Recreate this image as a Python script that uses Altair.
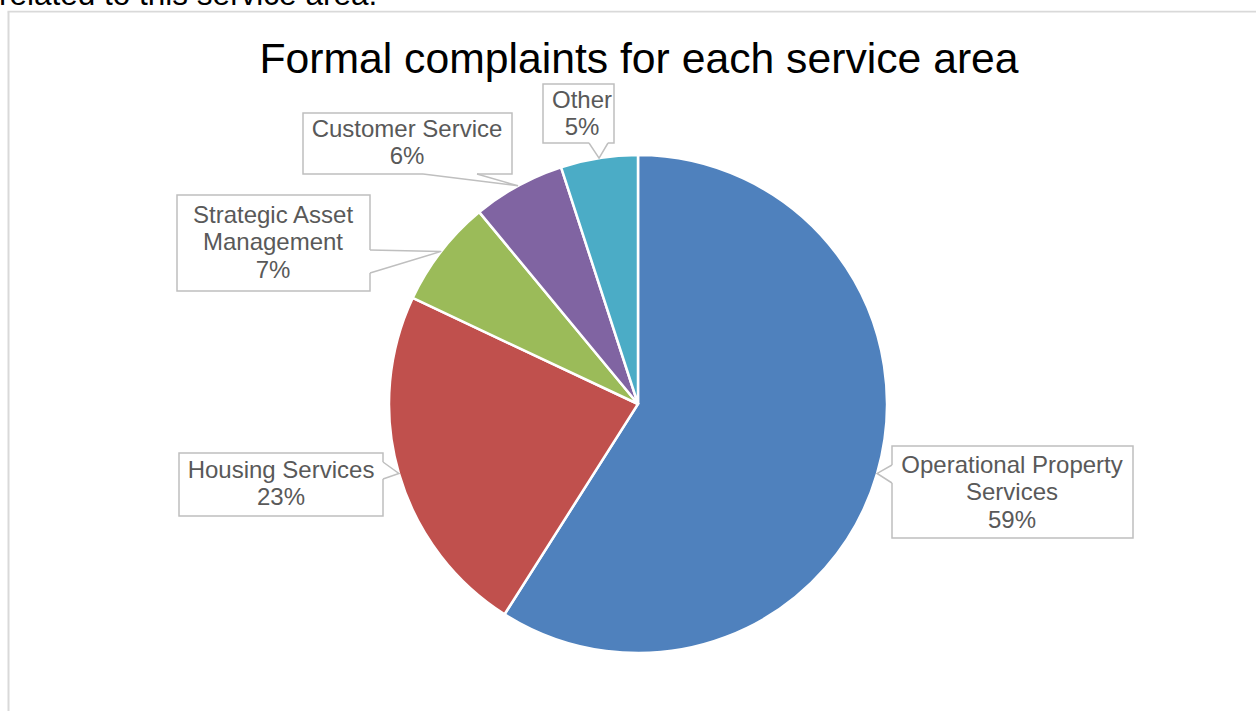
import altair as alt
import pandas as pd
import numpy as np

# ---- data ----
categories = ["Operational Property Services", "Housing Services",
              "Strategic Asset Management", "Customer Service", "Other"]
values = [59, 23, 7, 6, 5]
label_names = ["Operational Property\nServices", "Housing Services",
               "Strategic Asset\nManagement", "Customer Service", "Other"]
colors = ["#4F81BD", "#C0504D", "#9BBB59", "#8064A2", "#4BACC6"]
title_text = "Formal complaints for each service area"
context_text = "related to this service area."

# ---- layout (page pixels) ----
W, H = 1256, 711
CX, CY, R = 638, 404, 249
LH = 27.5
box_x0 = [892, 179, 177, 303, 543]
box_x1 = [1133, 383, 370, 512, 614]
box_y0 = [446, 453, 195, 113, 84]
box_y1 = [538, 516, 291, 174, 143]
text_x = [1012, 281, 273, 407, 582]
text_y = [493, 484.5, 243, 143.5, 114.5]
base1 = [(892, 465), (383, 462), (370, 250), (423, 174), (589, 143)]
base2 = [(892, 483), (383, 479), (370, 273), (477, 174), (608, 143)]

total = sum(values)
pct = [round(v / total * 100) for v in values]
labels = [f"{n}\n{p}%" for n, p in zip(label_names, pct)]
first_y = [ty - (lab.count("\n")) * LH / 2 for ty, lab in zip(text_y, labels)]

# pointer tips at mid-angle of each slice on the pie edge
cum = np.cumsum([0] + values[:-1])
mid = (cum + np.array(values) / 2) / total * 2 * np.pi
tip_x = CX + R * np.sin(mid)
tip_y = CY - R * np.cos(mid)

df_pie = pd.DataFrame({"category": categories, "value": values, "order": range(len(values))})
df_box = pd.DataFrame({"category": categories, "x0": box_x0, "x1": box_x1,
                       "y0": box_y0, "y1": box_y1, "tx": text_x, "ty": first_y,
                       "label": labels})
rows = []
for i, c in enumerate(categories):
    rows.append({"category": c, "seq": 0, "px": base1[i][0], "py": base1[i][1]})
    rows.append({"category": c, "seq": 1, "px": float(tip_x[i]), "py": float(tip_y[i])})
    rows.append({"category": c, "seq": 2, "px": base2[i][0], "py": base2[i][1]})
df_ptr = pd.DataFrame(rows)
df_cover = df_ptr[df_ptr.seq != 1]

xs = alt.Scale(domain=[0, W], range=[0, W], nice=False, zero=False)
ys = alt.Scale(domain=[0, H], range=[0, H], nice=False, zero=False)

frame_v = alt.Chart(df_pie.head(1)).mark_rule(color="#d9d9d9", strokeWidth=2).encode(
    x=alt.value(8.5), y=alt.value(11.7), y2=alt.value(H))
frame_h = alt.Chart(df_pie.head(1)).mark_rule(color="#d9d9d9", strokeWidth=1.7).encode(
    x=alt.value(7.5), x2=alt.value(W), y=alt.value(11.7))

pie = alt.Chart(df_pie).mark_arc(radius=R, stroke="white", strokeWidth=2.5).encode(
    theta=alt.Theta("value:Q", stack=True),
    color=alt.Color("category:N", scale=alt.Scale(domain=categories, range=colors), legend=None),
    order=alt.Order("order:Q"),
    x=alt.value(CX), y=alt.value(CY),
)

boxes = alt.Chart(df_box).mark_rect(fill="white", stroke="#bfbfbf", strokeWidth=1.5).encode(
    x=alt.X("x0:Q", scale=xs, axis=None), x2="x1:Q",
    y=alt.Y("y0:Q", scale=ys, axis=None), y2="y1:Q",
)

cover = alt.Chart(df_cover).mark_line(color="white", strokeWidth=2.5).encode(
    x=alt.X("px:Q", scale=xs, axis=None), y=alt.Y("py:Q", scale=ys, axis=None),
    detail="category:N", order="seq:Q")

pointers = alt.Chart(df_ptr).mark_line(color="#bfbfbf", strokeWidth=1.5).encode(
    x=alt.X("px:Q", scale=xs, axis=None), y=alt.Y("py:Q", scale=ys, axis=None),
    detail="category:N", order="seq:Q")

texts = alt.Chart(df_box).mark_text(font="Liberation Sans", fontSize=24, color="#595959",
                                    lineBreak="\n", lineHeight=LH, align="center",
                                    baseline="middle").encode(
    x=alt.X("tx:Q", scale=xs, axis=None), y=alt.Y("ty:Q", scale=ys, axis=None),
    text="label:N")

title = alt.Chart(pd.DataFrame({"t": [title_text]})).mark_text(
    font="Liberation Sans", fontSize=42.7, color="#000000", align="center",
    baseline="alphabetic").encode(x=alt.value(639), y=alt.value(72.5), text="t:N")

context = alt.Chart(pd.DataFrame({"t": [context_text]})).mark_text(
    font="Liberation Sans", fontSize=31.5, color="#000000", align="left",
    baseline="alphabetic").encode(x=alt.value(-1), y=alt.value(4.5), text="t:N")

chart = alt.layer(frame_v, frame_h, pie, boxes, cover, pointers, texts, title, context).properties(
    width=W, height=H,
    padding={"left": 0, "right": 0, "top": 0, "bottom": 0},
    autosize=alt.AutoSizeParams(type="none"),
).configure_view(stroke=None)

chart.save("out.html", embed_options={"renderer": "svg", "actions": False})
